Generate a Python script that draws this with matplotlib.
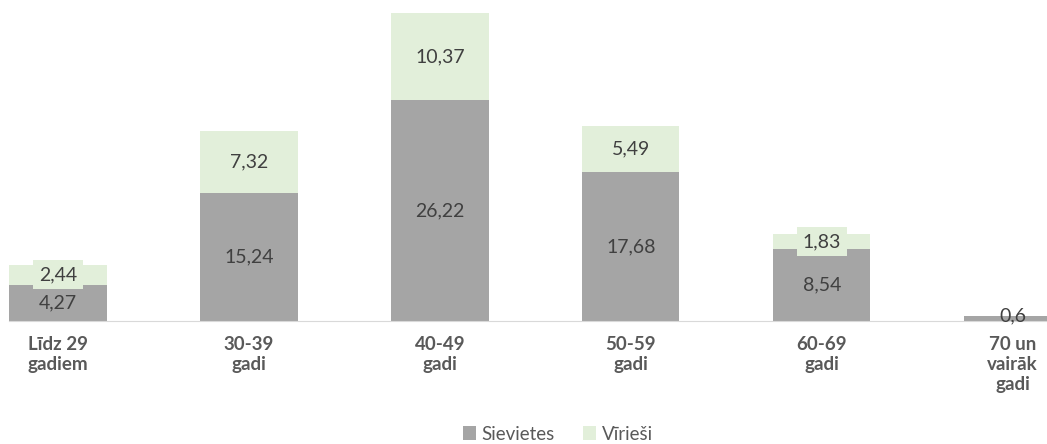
import numpy as np
from matplotlib import pyplot as plt

plt.rcParams['font.family'] = ['Lato', 'DejaVu Sans']

groups = ['Līdz 29\ngadiem', '30-39\ngadi', '40-49\ngadi', '50-59\ngadi', '60-69\ngadi', '70 un\nvairāk\ngadi']
sievietes = [4.27, 15.24, 26.22, 17.68, 8.54, 0.6]
viriesi = [2.44, 7.32, 10.37, 5.49, 1.83, 0]

c_sie = '#a5a5a5'
c_vir = '#e2efda'
txt = '#404040'

def fmt(v):
    return ('%g' % v).replace('.', ',')

fig = plt.figure(figsize=(10.47, 4.44), dpi=100)
ax = fig.add_axes([0, 1 - 321 / 444, 1, 308 / 444])
x = np.arange(len(groups))
w = 0.51
ax.bar(x, sievietes, w, color=c_sie, label='Sievietes')
ax.bar(x, viriesi, w, bottom=sievietes, color=c_vir, label='Vīrieši')

for i in x:
    s, v = sievietes[i], viriesi[i]
    if s >= 2:
        ax.text(i, s / 2, fmt(s), ha='center', va='center', fontsize=14, color=txt,
                bbox=dict(boxstyle='square,pad=0.3', fc=c_sie, ec='none'))
    else:
        ax.text(i, s, fmt(s), ha='center', va='center', fontsize=14, color=txt)
    if v > 0:
        ax.text(i, s + v / 2, fmt(v), ha='center', va='center', fontsize=14, color=txt,
                bbox=dict(boxstyle='square,pad=0.3', fc=c_vir, ec='none'))

ax.set_xlim(-0.304, 5.18)
ax.set_ylim(0, 36.59)
for sp in ['top', 'right', 'left']:
    ax.spines[sp].set_visible(False)
ax.spines['bottom'].set_color('#d9d9d9')
ax.spines['bottom'].set_bounds(-0.255, 5.5)
ax.set_yticks([])
ax.set_xticks(x)
ax.set_xticklabels(groups, fontsize=13.5, fontweight='bold', color='#595959', linespacing=1.2)
ax.tick_params(axis='x', length=0, pad=11)

fig.legend(loc='center', bbox_to_anchor=(558 / 1047, 1 - 434 / 444), ncol=2, frameon=False,
           fontsize=13.5, handlelength=0.7, handleheight=0.7, handletextpad=0.3, columnspacing=1.5,
           labelcolor='#595959')

fig.savefig('out.png', dpi=100)
